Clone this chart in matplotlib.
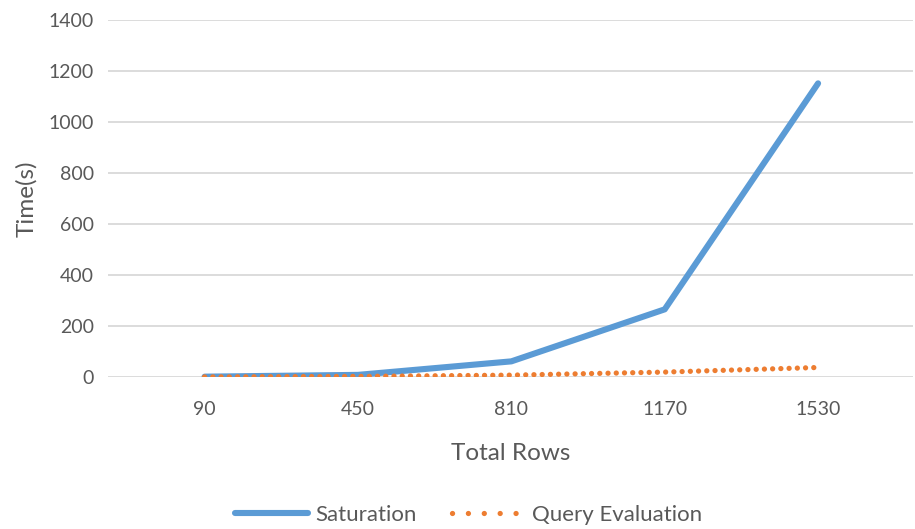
import matplotlib.pyplot as plt
from matplotlib.lines import Line2D

rows = ['90', '450', '810', '1170', '1530']
saturation = [2, 9, 62, 266, 1152]
query_eval = [1, 3, 8, 20, 38]

plt.rcParams['font.family'] = ['Lato', 'DejaVu Sans']
text_col = '#595959'
blue = '#5B9BD5'
orange = '#ED7D31'

fig = plt.figure(figsize=(9.15, 5.29), dpi=100)
ax = fig.add_axes([0.118, 0.287, 0.88, 0.675])

x = range(len(rows))
ax.plot(x, saturation, color=blue, lw=4.4, solid_capstyle='round', zorder=3)
ax.plot(x, query_eval, color=orange, lw=3.8, linestyle=(0, (0.01, 1.55)),
        dash_capstyle='round', zorder=3)

ax.set_ylim(0, 1400)
ax.set_yticks(range(0, 1401, 200))
ax.set_xlim(-0.63, 4.62)
ax.set_xticks(list(x))
ax.set_xticklabels(rows)

ax.grid(axis='y', color='#D9D9D9', lw=1.3)
ax.set_axisbelow(True)
for s in ax.spines.values():
    s.set_visible(False)
ax.tick_params(length=0, labelsize=14, colors=text_col)
ax.tick_params(axis='x', pad=17)
ax.tick_params(axis='y', pad=10)

ax.set_xlabel('Total Rows', fontsize=17.5, color=text_col, labelpad=18)
ax.set_ylabel('Time(s)', fontsize=17.5, color=text_col, labelpad=8)

# legend handles (Excel draws the legend dots wider apart)
handles = [Line2D([], [], color=blue, lw=4.4, solid_capstyle='round'),
           Line2D([], [], color=orange, lw=3.8, linestyle=(0, (0.01, 3.0)),
                  dash_capstyle='round')]
fig.legend(handles, ['Saturation', 'Query Evaluation'], loc='lower center',
           bbox_to_anchor=(0.512, -0.03), ncol=2, frameon=False, fontsize=16,
           labelcolor=text_col, handlelength=3.3, handletextpad=0.3,
           columnspacing=1.6)

fig.savefig('out.png', dpi=100)
